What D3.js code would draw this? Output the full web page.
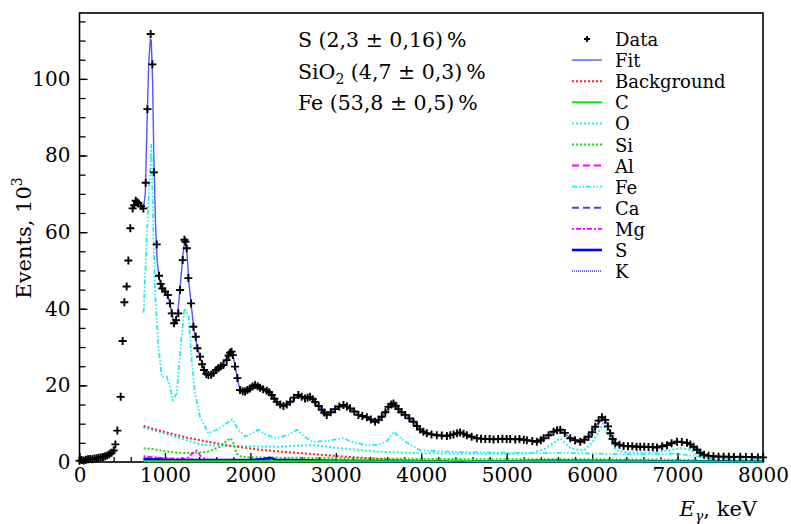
<!DOCTYPE html>
<html>
<head>
<meta charset="utf-8">
<script src="https://cdn.jsdelivr.net/npm/d3@7"></script>
<style>
  body { margin: 0; background: #fff; }
</style>
</head>
<body>
<svg id="chart" width="791" height="524"></svg>
<script>
// measured spectrum, [E keV, events x10^3]
const dataPoints = [
  [0,0.3],[25,0.5],[50,0.4],[75,0.6],[100,0.7],[125,0.8],[150,0.7],[175,0.9],[200,1.0],[225,1.1],
  [250,1.2],[275,1.3],[300,1.5],[325,1.7],[350,2.0],[375,2.4],[400,3.0],[420,4.6],[443,8.2],[482,17],
  [505,31.6],[525,41.7],[552,45.8],[572,52.6],[595,61],[622,66.2],[640,67],[658,68.2],[675,67.8],[689,67.5],
  [720,66.8],[748,66.2],[775,72.9],[795,92.1],[833,111.7],[853,103.8],[872,75.6],[904,56.8],[931,48.6],[950,46.5],
  [970,45.3],[1001,44.5],[1033,43.6],[1060,41.4],[1080,38.8],[1107,36.2],[1130,37],[1157,38.8],[1177,44.9],[1208,52.7],
  [1228,58],[1240,57.5],[1255,55.8],[1274,48],[1306,41.4],[1333,35.3],[1361,32.7],[1380,29.7],[1411,27.5],[1435,25.5],
  [1458,24],[1483,23],[1508,22.7],[1540,22.8],[1567,23.2],[1600,24],[1625,24.5],[1655,25],[1684,25.3],[1723,26.6],
  [1745,27.8],[1762,28.5],[1780,28.8],[1794,27.9],[1821,24.9],[1848,21.9],[1879,18.8],[1910,18.5],[1938,18.4],[1965,18.8],
  [1996,19.2],[2025,19.7],[2055,20.1],[2085,19.8],[2114,19.4],[2150,19],[2192,18.6],[2220,18.2],[2250,17.5],[2280,16.5],
  [2309,15.7],[2350,15],[2387,14.6],[2425,15],[2465,15.7],[2510,16.8],[2562,17.5],[2600,17],[2640,16.6],[2670,16.8],
  [2699,17],[2730,16.4],[2758,15.7],[2800,14.6],[2836,13.6],[2865,12.9],[2894,12.3],[2940,13],[2992,13.8],[3040,14.5],
  [3089,14.9],[3130,14.5],[3167,14],[3215,13.2],[3265,12.3],[3310,12],[3363,11.7],[3410,11.1],[3460,10.5],[3500,11],
  [3538,11.8],[3580,13],[3616,14.4],[3650,15],[3675,15.3],[3700,14.7],[3733,13.8],[3770,13],[3812,12.3],[3860,11.4],
  [3909,10.5],[3950,9.4],[3987,8.5],[4025,7.9],[4065,7.5],[4120,7.2],[4182,7],[4240,6.9],[4300,6.8],[4340,7],
  [4377,7.2],[4420,7.5],[4455,7.7],[4495,7.4],[4534,7],[4590,6.6],[4651,6.2],[4700,6.1],[4750,6],[4800,6],
  [4846,5.9],[4900,6],[4950,6.1],[5000,6],[5041,6],[5100,5.9],[5150,6],[5200,5.8],[5236,5.7],[5300,5.5],
  [5353,5.3],[5400,5.7],[5431,6.2],[5490,7],[5548,7.9],[5590,8.3],[5627,8.4],[5680,7.6],[5744,6.2],[5800,5.7],
  [5861,5.3],[5910,5.8],[5958,6.6],[6000,7.8],[6036,9.2],[6075,10.8],[6115,11.7],[6153,11],[6185,9.3],[6212,7.5],
  [6240,6],[6271,4.9],[6320,4.5],[6368,4.2],[6420,4.1],[6470,4.1],[6520,4],[6563,4],[6610,4],[6660,3.9],
  [6710,3.9],[6759,3.8],[6820,4.1],[6876,4.4],[6930,4.9],[6993,5.3],[7050,5.2],[7110,5],[7150,4.6],[7188,4],
  [7230,3.2],[7266,2.4],[7310,1.9],[7363,1.6],[7420,1.5],[7480,1.4],[7539,1.4],[7600,1.4],[7660,1.3],[7734,1.4],
  [7800,1.3],[7870,1.3],[7940,1.2],[8000,1.2]
];

const fitPoints = [
  [748,66.2],[770,70],[790,88],[810,104],[830,110.5],[840,110],[855,100],[870,80],[890,62],[910,52],
  [940,47],[970,45],[1000,44.3],[1040,43],[1070,40],[1100,37],[1120,36.5],[1150,39],[1180,46],[1210,54],
  [1235,58.3],[1255,55.5],[1280,47],[1310,40.5],[1340,34.5],[1380,29.8],[1420,26.8],[1460,24],[1500,22.8],[1560,23],
  [1620,24.3],[1680,25.5],[1740,27.8],[1780,28.8],[1800,27.5],[1830,24],[1870,19.5],[1910,18.4],[1960,18.7],[2050,20],
  [2120,19.5],[2200,18.5],[2260,17.2],[2320,15.5],[2390,14.6],[2460,15.6],[2560,17.4],[2640,16.6],[2700,16.9],[2760,15.6],
  [2840,13.6],[2900,12.4],[2990,13.8],[3090,14.9],[3170,14],[3270,12.3],[3370,11.6],[3460,10.6],[3540,11.8],[3620,14.3],
  [3675,15.2],[3740,13.7],[3820,12.2],[3910,10.5],[3990,8.4],[4070,7.5],[4180,7],[4300,6.8],[4380,7.2],[4455,7.6],
  [4540,7],[4650,6.2],[4850,5.9],[5050,6],[5240,5.7],[5350,5.3],[5430,6.2],[5550,7.9],[5630,8.3],[5750,6.2],
  [5860,5.4],[5960,6.6],[6040,9.2],[6120,11.6],[6160,10.8],[6215,7.4],[6275,4.9],[6370,4.2],[6560,4],[6760,3.8],
  [6880,4.4],[7000,5.2],[7110,5],[7190,4],[7270,2.4],[7365,1.6],[7540,1.4],[8000,1.2]
];

const backgroundPoints = [
  [750,9.4],[1000,7.8],[1250,6.4],[1500,5.3],[1750,4.3],[2000,3.5],[2300,2.8],[2650,2.2],[3100,1.4],[3500,0.8],
  [4000,0.4],[5000,0.2],[8000,0.1]
];

const carbonPoints = [[750,0.2],[2000,0.2],[4300,0.2],[4440,0.4],[4600,0.2],[8000,0.1]];

const oxygenPoints = [
  [750,9],[1060,7],[1411,4.6],[1723,4.2],[2000,4.1],[2348,4],[2500,4.2],[2735,4.4],[3000,3.7],[3250,3.2],
  [3480,2.7],[3987,2.3],[4500,2.2],[5000,2.1],[5300,2.3],[5450,3.5],[5627,6.2],[5750,3.5],[5900,3],[6000,5],
  [6133,10.1],[6200,7],[6280,3],[6400,2.5],[6700,2.5],[6900,3],[7031,3.6],[7150,3.2],[7227,1.8],[7400,0.8],[8000,0.6]
];

const siliconPoints = [
  [750,3.6],[850,3.4],[1000,2.8],[1200,2.3],[1350,2.4],[1500,2.7],[1650,4],[1720,5.5],[1770,6.2],[1800,5],
  [1840,2.2],[1900,1.3],[2100,1.2],[2500,1.1],[3000,1.0],[4000,0.8],[5000,0.7],[6000,0.7],[7000,0.6],[7400,0.3],[8000,0.2]
];

const aluminiumPoints = [[750,0.9],[1000,1.1],[1050,0.7],[1500,0.5],[2150,0.5],[2210,0.9],[2280,0.4],[3000,0.3],[8000,0.1]];

const ironPoints = [
  [750,39],[790,60],[840,83],[865,60],[885,44],[920,31],[962,22.3],[1021,22.3],[1060,19.7],[1091,16.2],
  [1138,17.9],[1177,28.4],[1228,40.1],[1274,38.4],[1313,26.6],[1352,17.9],[1411,11.8],[1508,7.5],[1606,8.4],[1723,10.1],
  [1789,11.1],[1848,8.8],[1938,6.6],[2094,8.4],[2192,7],[2309,6.2],[2450,7.2],[2543,8.4],[2640,6.5],[2735,5.3],
  [2900,5.5],[3087,6.2],[3200,5.2],[3363,4.4],[3500,4.5],[3600,5.5],[3675,7.9],[3800,5.5],[3987,3.1],[4300,2.7],
  [4700,2.5],[5392,2.3],[5600,2.4],[6000,2.2],[6500,2],[7000,2.2],[7300,1.2],[8000,1.0]
];

const calciumPoints = [[750,0.4],[2000,0.3],[4000,0.2],[8000,0.1]];

const magnesiumPoints = [[750,1.5],[1000,1],[1250,0.8],[1320,2.2],[1370,3],[1420,1.5],[1500,0.6],[2000,0.3],[8000,0.1]];

const sulfurPoints = [
  [750,0.8],[1000,0.6],[1500,0.5],[2000,0.5],[2150,0.8],[2230,1.1],[2300,0.6],[3000,0.3],[4000,0.2],[5000,0.2],
  [5400,0.3],[8000,0.1]
];

const potassiumPoints = [[750,0.3],[3000,0.2],[8000,0.1]];

const legendLabels = ['Data', 'Fit', 'Background', 'C', 'O', 'Si', 'Al', 'Fe', 'Ca', 'Mg', 'S', 'K'];
const xTickValues = [0, 1000, 2000, 3000, 4000, 5000, 6000, 7000, 8000];
const yTickValues = [0, 20, 40, 60, 80, 100];

const FONT = '"DejaVu Serif", serif';
const svg = d3.select('#chart');

const x = d3.scaleLinear().domain([0, 8000]).range([79.5, 763]);
const y = d3.scaleLinear().domain([0, 117.2]).range([462, 13]);

// component curves in drawing order (back to front)
const components = [
  { name: 'Fe', pts: ironPoints, color: '#22eeee', width: 1.8, dash: '5,2,1.5,2,1.5,2' },
  { name: 'O', pts: oxygenPoints, color: '#22eeee', width: 2, dash: '2,2' },
  { name: 'Background', pts: backgroundPoints, color: '#ff2020', width: 2, dash: '2,2' },
  { name: 'Si', pts: siliconPoints, color: '#11dd11', width: 2, dash: '2,2' },
  { name: 'Mg', pts: magnesiumPoints, color: '#ff00ff', width: 1.8, dash: '2,2,5,2' },
  { name: 'Al', pts: aluminiumPoints, color: '#ff00ff', width: 2, dash: '7,4' },
  { name: 'Ca', pts: calciumPoints, color: '#4848d8', width: 2, dash: '7,4' },
  { name: 'K', pts: potassiumPoints, color: '#5a5aff', width: 1.6, dash: '1,1' },
  { name: 'S', pts: sulfurPoints, color: '#0000ff', width: 2.6, dash: null },
  { name: 'C', pts: carbonPoints, color: '#00ee00', width: 2, dash: null }
];

const legendStyle = {
  'Fit': { color: '#5555ff', width: 1.4, dash: null },
  'Background': { color: '#ff2020', width: 2, dash: '2,2' },
  'C': { color: '#00ee00', width: 2, dash: null },
  'O': { color: '#22eeee', width: 2, dash: '2,2' },
  'Si': { color: '#11dd11', width: 2, dash: '2,2' },
  'Al': { color: '#ff00ff', width: 2, dash: '7,4' },
  'Fe': { color: '#22eeee', width: 1.8, dash: '5,2,1.5,2,1.5,2' },
  'Ca': { color: '#4848d8', width: 2, dash: '7,4' },
  'Mg': { color: '#ff00ff', width: 1.8, dash: '2,2,5,2' },
  'S': { color: '#0000ff', width: 2.6, dash: null },
  'K': { color: '#5a5aff', width: 1.6, dash: '1,1' }
};

// frame
svg.append('rect')
  .attr('x', x(0)).attr('y', y(117.2))
  .attr('width', x(8000) - x(0)).attr('height', y(0) - y(117.2))
  .attr('fill', 'none').attr('stroke', '#000').attr('stroke-width', 1.6);

// axes with inward ticks
const xMinor = d3.axisBottom(x).tickValues(d3.range(0, 8001, 200)).tickSize(-5).tickFormat('');
const xMajor = d3.axisBottom(x).tickValues(xTickValues).tickSize(-9).tickPadding(6).tickFormat(d3.format('d'));
const yMinor = d3.axisLeft(y).tickValues(d3.range(0, 116, 5)).tickSize(-6).tickFormat('');
const yMajor = d3.axisLeft(y).tickValues(yTickValues).tickSize(-8).tickPadding(9).tickFormat(d3.format('d'));

[xMinor, xMajor].forEach(ax => {
  svg.append('g').attr('transform', `translate(0,${y(0)})`).call(ax)
    .call(g => g.select('.domain').remove());
});
[yMinor, yMajor].forEach(ax => {
  svg.append('g').attr('transform', `translate(${x(0)},0)`).call(ax)
    .call(g => g.select('.domain').remove());
});
svg.selectAll('.tick line').attr('stroke', '#000').attr('stroke-width', 1.3);
svg.selectAll('.tick text').attr('font-size', 20).style('font-family', FONT).attr('fill', '#000');

const line = d3.line().x(d => x(d[0])).y(d => y(d[1]));

components.forEach(c => {
  svg.append('path')
    .datum(c.pts)
    .attr('d', line)
    .attr('fill', 'none')
    .attr('stroke', c.color)
    .attr('stroke-width', c.width)
    .attr('stroke-dasharray', c.dash);
});

// fit
svg.append('path')
  .datum(fitPoints)
  .attr('d', line)
  .attr('fill', 'none')
  .attr('stroke', '#5555ff')
  .attr('stroke-width', 1.4);

// data markers
const cross = 'M-4,0H4M0,-4V4';
svg.append('g').selectAll('path')
  .data(dataPoints)
  .join('path')
  .attr('d', cross)
  .attr('transform', d => `translate(${x(d[0])},${y(d[1])})`)
  .attr('stroke', '#000')
  .attr('stroke-width', 1.9);

// legend
const legend = svg.append('g');
legendLabels.forEach((label, i) => {
  const by = 46 + i * 21.1;
  const cy = by - 7;
  if (label === 'Data') {
    legend.append('path').attr('d', 'M-3,0H3M0,-3V3')
      .attr('transform', `translate(587,${cy})`)
      .attr('stroke', '#000').attr('stroke-width', 1.8);
  } else {
    const s = legendStyle[label];
    legend.append('line')
      .attr('x1', 572).attr('x2', 602).attr('y1', cy).attr('y2', cy)
      .attr('stroke', s.color).attr('stroke-width', s.width)
      .attr('stroke-dasharray', s.dash);
  }
  legend.append('text').attr('x', 615).attr('y', by)
    .attr('font-size', 18).style('font-family', FONT).text(label);
});

// composition annotation
const note = svg.append('g').attr('font-size', 20.5).style('font-family', FONT);
note.append('text').attr('x', 298).attr('y', 47).text('S (2,3 \u00b1 0,16)\u2009%');
const si = note.append('text').attr('x', 298).attr('y', 79);
si.append('tspan').text('SiO');
si.append('tspan').attr('font-size', 14).attr('dy', 5).text('2');
si.append('tspan').attr('dy', -5).text(' (4,7 \u00b1 0,3)\u2009%');
note.append('text').attr('x', 298).attr('y', 110).text('Fe (53,8 \u00b1 0,5)\u2009%');

// axis titles
const yt = svg.append('text')
  .attr('transform', 'translate(31,238) rotate(-90)')
  .attr('text-anchor', 'middle')
  .attr('font-size', 21).style('font-family', FONT);
yt.append('tspan').text('Events, 10');
yt.append('tspan').attr('font-size', 14).attr('dy', -9).text('3');

const xt = svg.append('text').attr('x', 757).attr('y', 516)
  .attr('text-anchor', 'end').attr('font-size', 21).style('font-family', FONT);
xt.append('tspan').attr('font-style', 'italic').text('E');
xt.append('tspan').attr('font-style', 'italic').attr('font-size', 14).attr('dy', 5).text('γ');
xt.append('tspan').attr('dy', -5).text(', keV');
</script>
</body>
</html>
